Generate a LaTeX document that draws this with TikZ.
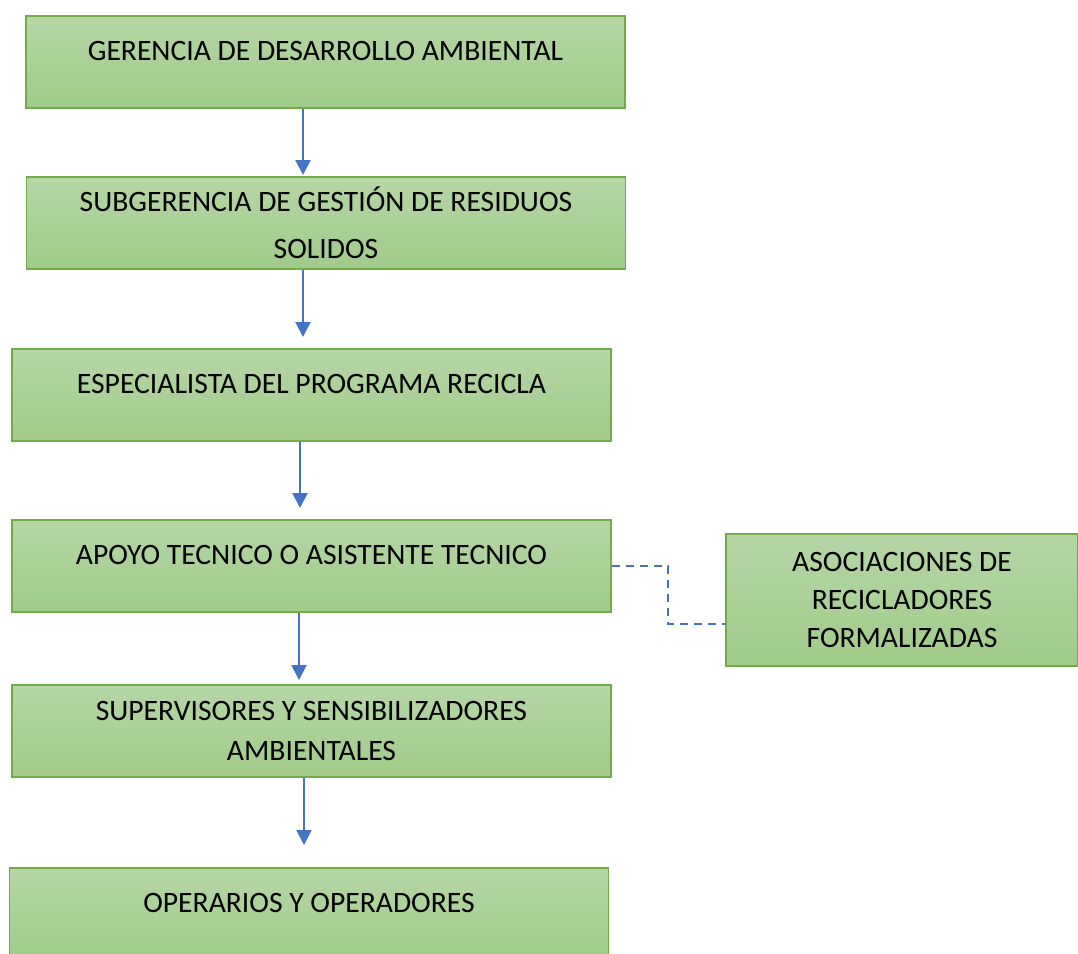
\documentclass[tikz,border=0pt]{standalone}
\usepackage{fontspec}
\setmainfont{Carlito}
\usetikzlibrary{arrows.meta}
\definecolor{boxtop}{RGB}{182,214,166}
\definecolor{boxbot}{RGB}{160,203,137}
\definecolor{boxline}{RGB}{112,173,71}
\definecolor{linkblue}{RGB}{68,114,196}
\tikzset{
    orgbox/.style={draw=boxline, line width=1pt, top color=boxtop, bottom color=boxbot,
        minimum width=11.98cm, minimum height=1.84cm, align=center, inner sep=2pt,
        font=\fontsize{16.85}{21.5}\selectfont},
    oneline/.style={text depth=12.5pt},
    down/.style={draw=linkblue, line width=1.2pt, -{Triangle[length=0.3cm,width=0.3cm]}},
    dashlink/.style={draw=linkblue, line width=1.2pt, dash pattern=on 0.16cm off 0.12cm}
}

\begin{document}
\begin{tikzpicture}[x=0.02cm,y=-0.02cm]
    \useasboundingbox (0, 0) rectangle (1078, 953);
    \node [orgbox,oneline] (ger) at (325.5, 62) {GERENCIA DE DESARROLLO AMBIENTAL};
    \node [orgbox] (sub) at (326, 223) {SUBGERENCIA DE GESTIÓN DE RESIDUOS\\[5pt] SOLIDOS};
    \node [orgbox,oneline] (esp) at (311.5, 395) {ESPECIALISTA DEL PROGRAMA RECICLA};
    \node [orgbox,oneline] (apo) at (311.5, 566) {APOYO TECNICO O ASISTENTE TECNICO};
    \node [orgbox] (sup) at (311.5, 731) {SUPERVISORES Y SENSIBILIZADORES\\[1.7pt] AMBIENTALES};
    \node [orgbox,oneline] (ope) at (309, 914) {OPERARIOS Y OPERADORES};
    \node [orgbox,minimum width=7.04cm,minimum height=2.63cm] (aso) at (902, 600) {ASOCIACIONES DE\\ RECICLADORES\\ FORMALIZADAS};
    \coordinate (t1) at (303, 175);
    \coordinate (t2) at (303, 337);
    \coordinate (t3) at (300, 508);
    \coordinate (t4) at (299, 680);
    \coordinate (t5) at (304, 845);
    \coordinate (j1) at (668, 624);
    \draw [down](ger.south -| t1) -- (t1);
    \draw [down](sub.south -| t2) -- (t2);
    \draw [down](esp.south -| t3) -- (t3);
    \draw [down](apo.south -| t4) -- (t4);
    \draw [down](sup.south -| t5) -- (t5);
    \draw [dashlink](apo.east) -| (j1) -- (j1 -| aso.west);
\end{tikzpicture}
\end{document}
